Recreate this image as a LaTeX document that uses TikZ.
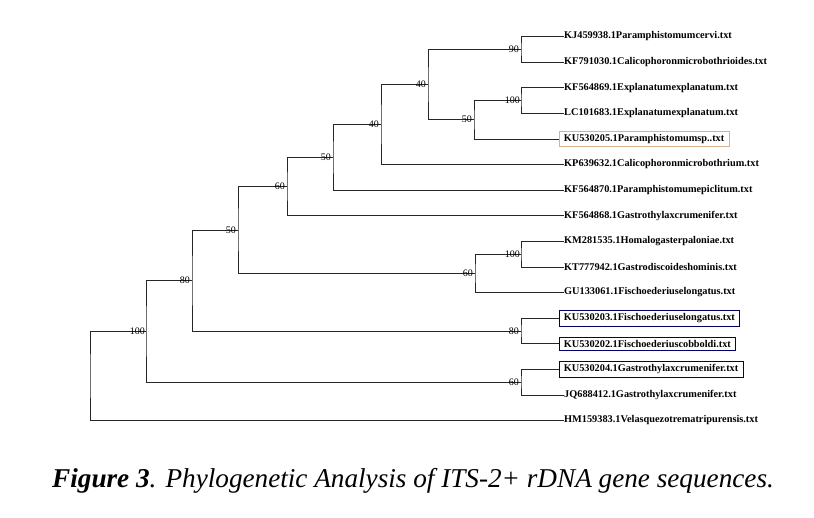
\documentclass[tikz,border=0pt]{standalone}
\usepackage{fontspec}
\setmainfont{Liberation Serif}
\begin{document}
\begin{tikzpicture}[x=1pt,y=-1pt,
  br/.style={draw=black!85, line width=0.75pt},
  leaf/.style={anchor=west, inner sep=0pt, font=\fontsize{10.3}{11}\selectfont\bfseries},
  boxtan/.style={draw=brown!60!white, line width=0.6pt, inner xsep=4.5pt, inner ysep=3pt},
  boxblue/.style={draw=blue!40!black, line width=0.6pt, inner xsep=4.5pt, inner ysep=3pt},
  bs/.style={anchor=east, inner sep=0pt, font=\fontsize{10}{11}\selectfont}]
\useasboundingbox[fill=white] (0,0) rectangle (814,518);
% leaves
\node[leaf] (t1) at (564,36.5) {KJ459938.1Paramphistomumcervi.txt};
\node[leaf] (t2) at (564,62.1) {KF791030.1Calicophoronmicrobothrioides.txt};
\node[leaf] (t3) at (564,87.7) {KF564869.1Explanatumexplanatum.txt};
\node[leaf] (t4) at (564,113.3) {LC101683.1Explanatumexplanatum.txt};
\node[leaf,boxtan] (t5) at (559,138.9) {KU530205.1Paramphistomumsp..txt};
\node[leaf] (t6) at (564,164.5) {KP639632.1Calicophoronmicrobothrium.txt};
\node[leaf] (t7) at (564,190.1) {KF564870.1Paramphistomumepiclitum.txt};
\node[leaf] (t8) at (564,215.7) {KF564868.1Gastrothylaxcrumenifer.txt};
\node[leaf] (t9) at (564,241.3) {KM281535.1Homalogasterpaloniae.txt};
\node[leaf] (t10) at (564,266.9) {KT777942.1Gastrodiscoideshominis.txt};
\node[leaf] (t11) at (564,292.5) {GU133061.1Fischoederiuselongatus.txt};
\node[leaf,boxblue] (t12) at (559,318.1) {KU530203.1Fischoederiuselongatus.txt};
\node[leaf,boxblue] (t13) at (559,343.7) {KU530202.1Fischoederiuscobboldi.txt};
\node[leaf,boxblue] (t14) at (559,369.3) {KU530204.1Gastrothylaxcrumenifer.txt};
\node[leaf] (t15) at (564,394.9) {JQ688412.1Gastrothylaxcrumenifer.txt};
\node[leaf] (t16) at (564,420.5) {HM159383.1Velasquezotrematripurensis.txt};
% internal nodes
\coordinate (n90) at (521,49.3);
\coordinate (n100a) at (521,100.5);
\coordinate (n50a) at (474,119.7);
\coordinate (n40a) at (428,84.5);
\coordinate (n40b) at (381,124.5);
\coordinate (n50b) at (333,157.3);
\coordinate (n60a) at (287,186.5);
\coordinate (n100b) at (521,254.1);
\coordinate (n60b) at (475,273.3);
\coordinate (n50c) at (238,229.9);
\coordinate (n80a) at (521,330.9);
\coordinate (n80b) at (192,280.4);
\coordinate (n60c) at (521,382.1);
\coordinate (n100c) at (146,331.2);
\coordinate (root) at (90,375.9);
% branches
\draw[br] (t1.west) -| (n90) |- (t2.west);
\draw[br] (t3.west) -| (n100a) |- (t4.west);
\draw[br] (n100a) -| (n50a) |- (t5.west);
\draw[br] (n90) -| (n40a) |- (n50a);
\draw[br] (n40a) -| (n40b) |- (t6.west);
\draw[br] (n40b) -| (n50b) |- (t7.west);
\draw[br] (n50b) -| (n60a) |- (t8.west);
\draw[br] (t9.west) -| (n100b) |- (t10.west);
\draw[br] (n100b) -| (n60b) |- (t11.west);
\draw[br] (n60a) -| (n50c) |- (n60b);
\draw[br] (t12.west) -| (n80a) |- (t13.west);
\draw[br] (n50c) -| (n80b) |- (n80a);
\draw[br] (t14.west) -| (n60c) |- (t15.west);
\draw[br] (n80b) -| (n100c) |- (n60c);
\draw[br] (n100c) -| (root) |- (t16.west);
% bootstrap values
\node[bs] (b1) at ([xshift=-2pt]n90) {90};
\node[bs] (b2) at ([xshift=-1pt]n100a) {100};
\node[bs] (b3) at ([xshift=-2pt]n50a) {50};
\node[bs] (b4) at ([xshift=-2pt]n40a) {40};
\node[bs] (b5) at ([xshift=-2pt]n40b) {40};
\node[bs] (b6) at ([xshift=-2pt]n50b) {50};
\node[bs] (b7) at ([xshift=-2pt]n60a) {60};
\node[bs] (b8) at ([xshift=-1pt]n100b) {100};
\node[bs] (b9) at ([xshift=-2pt]n60b) {60};
\node[bs] (b10) at ([xshift=-2pt]n50c) {50};
\node[bs] (b11) at ([xshift=-2pt]n80a) {80};
\node[bs] (b12) at ([xshift=-2pt]n80b) {80};
\node[bs] (b13) at ([xshift=-2pt]n60c) {60};
\node[bs] (b14) at ([xshift=-1pt]n100c) {100};
% caption
\node[anchor=base west, inner sep=0pt, font=\fontsize{27.2}{29}\selectfont\itshape] (cap) at (52,487)
  {\textbf{Figure 3}. Phylogenetic Analysis of ITS-2+ rDNA gene sequences.};
\end{tikzpicture}
\end{document}
